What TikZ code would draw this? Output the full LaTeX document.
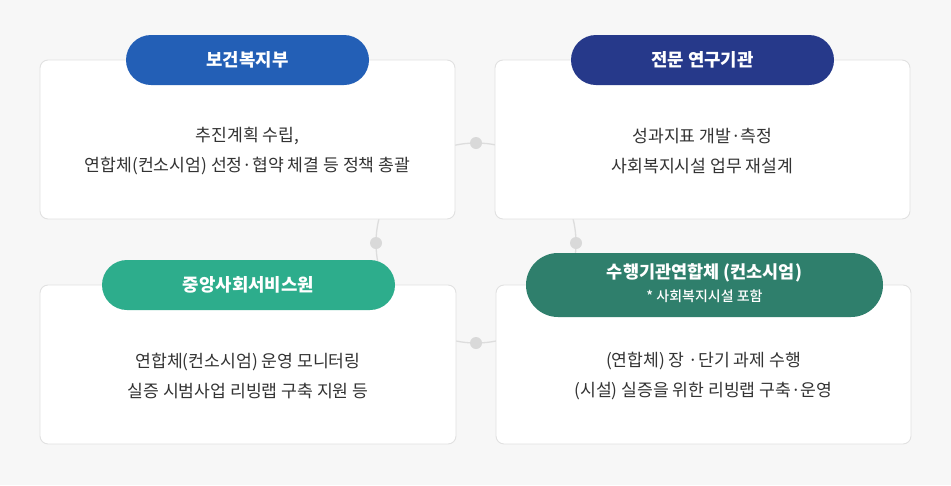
\documentclass[tikz,border=0pt]{standalone}
\usepackage{fontspec}
\setmainfont{Noto Sans CJK KR}
\newfontfamily\krmed{Noto Sans CJK KR Medium}
\definecolor{bgc}{HTML}{F7F7F7}
\definecolor{boxline}{HTML}{E1E1E1}
\definecolor{ringc}{HTML}{DDDDDD}
\definecolor{dotc}{HTML}{D9D9D9}
\definecolor{bodyc}{HTML}{333333}
\definecolor{pillA}{HTML}{235FB6}
\definecolor{pillB}{HTML}{26398A}
\definecolor{pillC}{HTML}{2DAD8C}
\definecolor{pillD}{HTML}{2F7F6C}
\tikzset{
  cardbox/.style={draw=boxline, line width=0.9pt, fill=white, rounded corners=8pt,
    minimum height=159pt, inner sep=0pt},
  pill/.style={rounded corners=25pt, minimum height=50pt, inner sep=0pt,
    text=white, font=\fontsize{17.8}{20}\selectfont\bfseries},
  bodytext/.style={text=bodyc, align=center, inner sep=0pt,
    font=\fontsize{17.2}{30}\selectfont},
  ringdot/.style={circle, fill=dotc, minimum size=12pt, inner sep=0pt},
}
\begin{document}
\begin{tikzpicture}[x=1pt,y=-1pt]
\useasboundingbox[fill=bgc] (0,0) rectangle (951,485);
% ring behind the cards
\coordinate (ctr) at (476,243);
\draw[ringc, line width=1.3pt] (ctr) circle[radius=100pt];
\node[ringdot] (dtop) at (476,143) {};
\node[ringdot] (dleft) at (376,243) {};
\node[ringdot] (dright) at (576,243) {};
\node[ringdot] (dbot) at (476,343) {};
% cards
\node[cardbox, minimum width=415pt] (c1) at (247.5,139.5) {};
\node[cardbox, minimum width=415pt] (c2) at (702.5,139.5) {};
\node[cardbox, minimum width=416pt] (c3) at (248,364.5) {};
\node[cardbox, minimum width=415pt] (c4) at (703.5,364.5) {};
% pills
\node[pill, fill=pillA, minimum width=243pt] (p1) at (247.5,60) {보건복지부};
\node[pill, fill=pillB, minimum width=263pt] (p2) at (702.5,60) {전문 연구기관};
\node[pill, fill=pillC, minimum width=293pt] (p3) at (248.5,285) {중앙사회서비스원};
\node[pill, fill=pillD, minimum width=357pt, minimum height=64pt, rounded corners=32pt] (p4) at (704.5,285) {};
\node[text=white, inner sep=0pt, font=\fontsize{17.5}{20}\selectfont\bfseries] (p4a) at (704.5,273) {수행기관연합체 (컨소시엄)};
\node[text=white, inner sep=0pt, font=\fontsize{14}{16}\selectfont\krmed] (p4b) at (704.5,296.5) {* 사회복지시설 포함};
% body texts
\node[bodytext] (t1) at (247.5,151) {추진계획 수립,\\연합체(컨소시엄) 선정·협약 체결 등 정책 총괄};
\node[bodytext] (t2) at (702.5,151) {성과지표 개발·측정\\사회복지시설 업무 재설계};
\node[bodytext] (t3) at (248,376) {연합체(컨소시엄) 운영 모니터링\\실증 시범사업 리빙랩 구축 지원 등};
\node[bodytext] (t4) at (703.5,376) {(연합체) 장 ·단기 과제 수행\\(시설) 실증을 위한 리빙랩 구축·운영};
\end{tikzpicture}
\end{document}
